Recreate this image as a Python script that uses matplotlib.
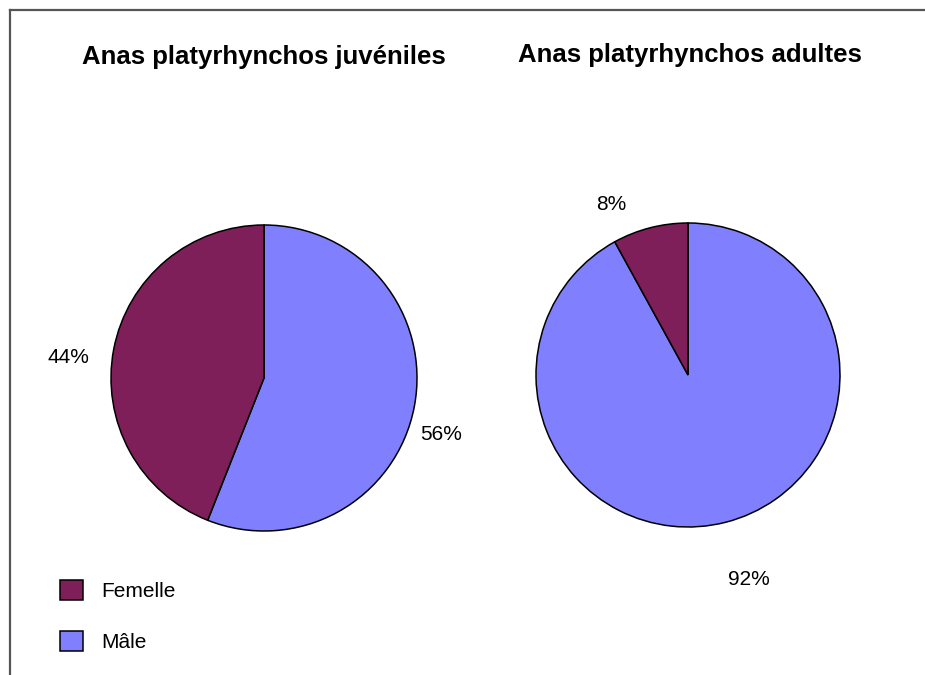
import matplotlib.pyplot as plt
from matplotlib.lines import Line2D
from matplotlib.transforms import ScaledTranslation

plt.rcParams['font.family'] = ['Liberation Sans', 'DejaVu Sans']

# données
categories = ['Mâle', 'Femelle']
juveniles = [56, 44]
adultes = [92, 8]
titres = ['Anas platyrhynchos juvéniles', 'Anas platyrhynchos adultes']
couleurs = ['#8080FF', '#7F1F5A']

W, H = 925, 675
fig = plt.figure(figsize=(W / 100, H / 100), dpi=100)
fig.patch.set_facecolor('white')


def px_axes(cx, cy, r):
    # axes carré centré sur (cx, cy) en pixels (origine en haut à gauche)
    return fig.add_axes([(cx - r) / W, (H - cy - r) / H, 2 * r / W, 2 * r / H])


ax1 = px_axes(264, 378, 153)
ax2 = px_axes(688, 375, 152)

# décalage des étiquettes en pixels (x vers la droite, y vers le bas)
reglages = [
    (ax1, juveniles, 1.24, [(-9, 21), (-9, 15)]),
    (ax2, adultes, 1.28, [(12, 16), (-28, 18)]),
]

wedges = None
for ax, vals, dist, decal in reglages:
    w, _, autotexts = ax.pie(vals, colors=couleurs, startangle=90, counterclock=False,
                             autopct='%d%%', pctdistance=dist,
                             wedgeprops=dict(edgecolor='black', linewidth=1.1),
                             textprops=dict(fontsize=15, color='black'))
    for t, (dx, dy) in zip(autotexts, decal):
        t.set_transform(ax.transData + ScaledTranslation(dx / 100, -dy / 100, fig.dpi_scale_trans))
    ax.set_xlim(-1, 1)
    ax.set_ylim(-1, 1)
    ax.set_aspect('equal')
    ax.axis('off')
    if wedges is None:
        wedges = w

# titres
fig.text(264 / W, 1 - 64 / H, titres[0], ha='center', va='baseline',
         fontsize=18.5, fontweight='bold')
fig.text(690 / W, 1 - 62 / H, titres[1], ha='center', va='baseline',
         fontsize=18.5, fontweight='bold')

# légende : Femelle puis Mâle
fig.legend([wedges[1], wedges[0]], [categories[1], categories[0]],
           loc='upper left', bbox_to_anchor=(60 / W, 1 - 580 / H),
           frameon=False, fontsize=15, handlelength=1.1, handleheight=1.1,
           labelspacing=1.45, handletextpad=0.9, borderpad=0, borderaxespad=0)

# cadre (haut et gauche)
fig.add_artist(Line2D([9.5 / W, 9.5 / W], [0, 1 - 9.5 / H], transform=fig.transFigure,
                      color='#555555', linewidth=1.6))
fig.add_artist(Line2D([9.5 / W, 1], [1 - 9.5 / H, 1 - 9.5 / H], transform=fig.transFigure,
                      color='#555555', linewidth=1.6))

fig.savefig('out.png', dpi=100)
